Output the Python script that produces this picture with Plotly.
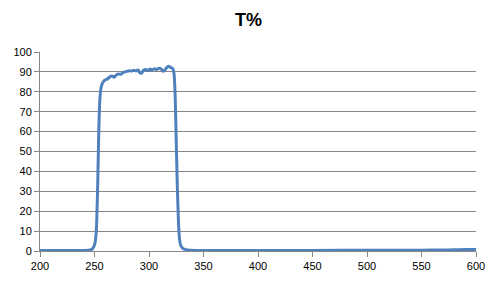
import plotly.graph_objects as go

wavelength = [200, 210, 220, 230, 240, 245, 248, 250, 251, 252, 253, 254, 255, 256, 257, 258, 260, 262, 264, 266, 268,
              270, 272, 274, 276, 278, 280, 282, 284, 286, 288, 290, 291, 293, 295, 297, 299, 301, 303, 305, 307,
              309, 311, 313, 314, 316, 318, 320, 322, 323, 324, 325, 326, 327, 328, 329, 331, 334, 338, 345, 360,
              400, 450, 500, 550, 570, 580, 590, 600]
transmission = [0.3, 0.3, 0.3, 0.3, 0.3, 0.4, 1.0, 3.0, 6.0, 14.0, 35.0, 62.0, 77.0, 82.0, 84.0, 85.0, 86.0, 86.5, 87.5, 88.0, 87.3,
                88.5, 89.0, 88.8, 89.6, 90.0, 90.3, 90.6, 90.4, 90.8, 90.5, 91.0, 90.0, 89.3, 90.8, 91.2, 90.6, 91.4, 91.0, 91.6, 91.2,
                91.8, 91.5, 90.3, 90.5, 92.0, 92.8, 92.2, 91.5, 89.0, 78.0, 55.0, 32.0, 15.0, 6.0, 3.0, 1.3, 0.7, 0.4, 0.3, 0.3,
                0.3, 0.3, 0.4, 0.4, 0.5, 0.6, 0.7, 0.7]

x_ticks = [200, 250, 300, 350, 400, 450, 500, 550, 600]
y_ticks = [0, 10, 20, 30, 40, 50, 60, 70, 80, 90, 100]

fig = go.Figure()
fig.add_trace(go.Scatter(
    x=wavelength, y=transmission, mode="lines",
    line=dict(color="#4F81BD", width=3, shape="spline", smoothing=0.4),
    showlegend=False, hoverinfo="skip",
))

fig.update_layout(
    width=497, height=284,
    margin=dict(l=40, r=18, t=52, b=32),
    paper_bgcolor="white", plot_bgcolor="white",
    font=dict(family="Liberation Sans, Arial, sans-serif", size=11, color="black"),
    title=dict(text="<b>T%</b>", x=0.5, xanchor="center", y=0.93, yanchor="middle",
               font=dict(size=18, color="black")),
)
fig.update_xaxes(
    range=[200, 600], tickvals=x_ticks, ticktext=[str(v) for v in x_ticks],
    showgrid=False, zeroline=False,
    showline=True, linecolor="#878787", linewidth=1,
    ticks="outside", ticklen=5, tickcolor="#878787",
)
fig.update_yaxes(
    range=[0, 100], tickvals=y_ticks, ticktext=[str(v) for v in y_ticks],
    showgrid=True, gridcolor="#878787", gridwidth=1, zeroline=False,
    showline=True, linecolor="#878787", linewidth=1,
    ticks="outside", ticklen=5, tickcolor="#878787",
)

fig.write_html("out.html")
